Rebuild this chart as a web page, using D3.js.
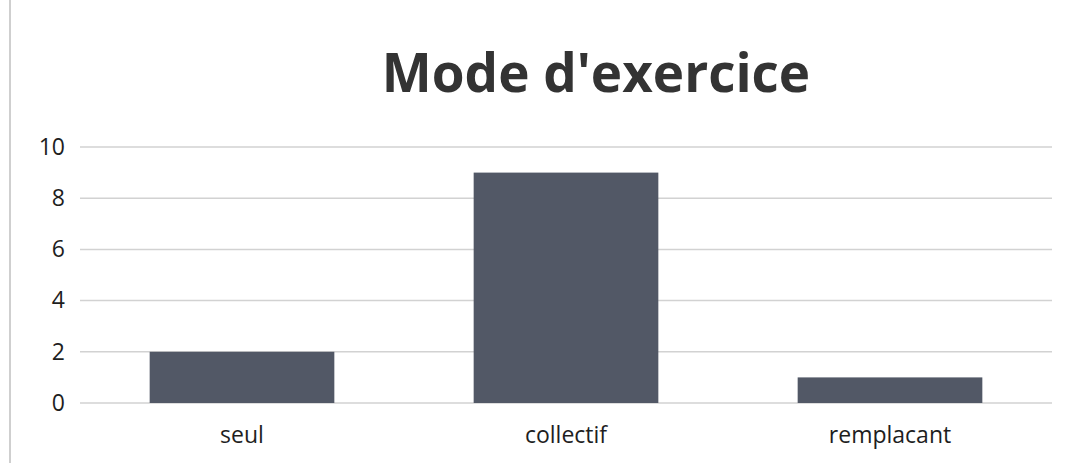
<!DOCTYPE html>
<html>
<head>
<meta charset="utf-8">
<script src="https://cdn.jsdelivr.net/npm/d3@7"></script>
<style>
body { margin: 0; background: #fff; }
.axis text { font-family: "Open Sans", sans-serif; fill: #1e1e1e; font-size: 23px; }
</style>
</head>
<body>
<div id="chart"></div>
<script>
var categories = ["seul", "collectif", "remplacant"];
var values = [2, 9, 1];
var yTicks = [0, 2, 4, 6, 8, 10];

var W = 1072, H = 463;
var margin = { top: 147, right: 20, bottom: 60, left: 80 };
var width = W - margin.left - margin.right,
    height = H - margin.top - margin.bottom;

var svg = d3.select("#chart").append("svg")
    .attr("width", W)
    .attr("height", H);

// faint frame of the scanned chart
svg.append("line")
    .attr("x1", 10).attr("x2", 10).attr("y1", 0).attr("y2", H)
    .attr("stroke", "#cfcfcf").attr("stroke-width", 2);

svg.append("text")
    .attr("x", 596)
    .attr("y", 92)
    .attr("text-anchor", "middle")
    .attr("font-family", "'Open Sans', sans-serif")
    .attr("font-weight", "bold")
    .attr("font-size", "53px")
    .attr("fill", "#333")
    .text("Mode d'exercice");

var g = svg.append("g")
    .attr("transform", "translate(" + margin.left + "," + margin.top + ")");

var x = d3.scaleBand()
    .domain(categories)
    .range([0, width])
    .paddingInner(0.43)
    .paddingOuter(0.215);

var y = d3.scaleLinear()
    .domain([0, 10])
    .range([height, 0]);

// gridlines
g.append("g")
    .selectAll("line")
    .data(yTicks)
    .enter().append("line")
    .attr("x1", 0).attr("x2", width)
    .attr("y1", function (d) { return y(d); })
    .attr("y2", function (d) { return y(d); })
    .attr("stroke", "#d2d2d2")
    .attr("stroke-width", 1.5);

// y axis
var yAxis = g.append("g")
    .attr("class", "axis")
    .call(d3.axisLeft(y).tickValues(yTicks).tickSize(0).tickPadding(15));
yAxis.select(".domain").remove();

// bars
g.selectAll("rect.bar")
    .data(values)
    .enter().append("rect")
    .attr("class", "bar")
    .attr("x", function (d, i) { return x(categories[i]); })
    .attr("y", function (d) { return y(d); })
    .attr("width", x.bandwidth())
    .attr("height", function (d) { return height - y(d); })
    .attr("fill", "#525866");

// x axis
var xAxis = g.append("g")
    .attr("class", "axis")
    .attr("transform", "translate(0," + height + ")")
    .call(d3.axisBottom(x).tickSize(0).tickPadding(24));
xAxis.select(".domain").remove();
</script>
</body>
</html>
